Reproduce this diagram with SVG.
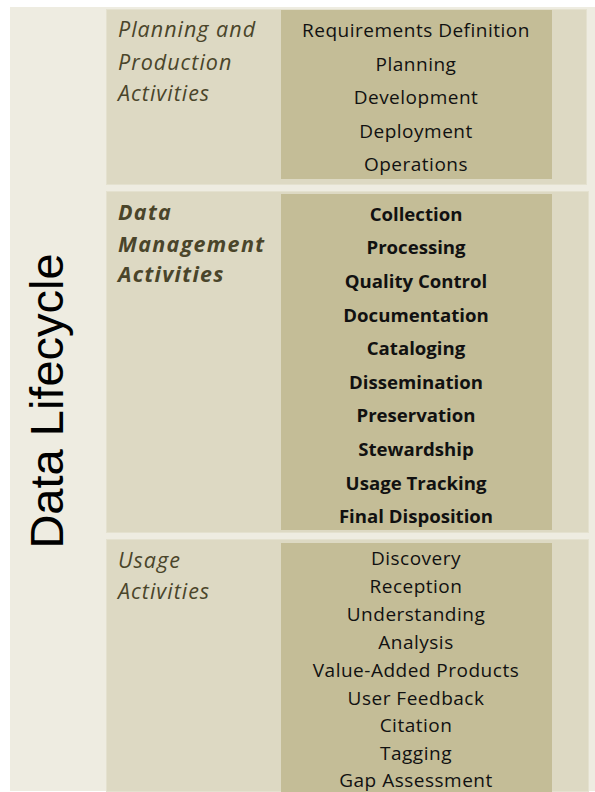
<svg xmlns="http://www.w3.org/2000/svg" width="595" height="792" viewBox="0 0 595 792">
<style>
.bg{fill:#EEECE1}
.panel{fill:#DDD9C3;stroke:#E4E1CF;stroke-width:1}
.box{fill:#C4BD97}
.lbl{font-family:"Open Sans","Noto Sans",sans-serif;font-size:21.5px;letter-spacing:1px;font-style:italic;fill:#4A452A}
.lblb{font-weight:bold;letter-spacing:1.3px}
.item{font-family:"Open Sans","Noto Sans",sans-serif;font-size:19px;letter-spacing:0.5px;fill:#111;text-anchor:middle}
.itemb{font-weight:bold;font-size:18.6px;letter-spacing:0}
.title{font-family:"Liberation Sans",Arial,sans-serif;font-size:47px;fill:#000;text-anchor:middle}
</style>
<rect x="0" y="0" width="595" height="792" fill="#FFFFFF"/>
<rect class="bg" x="10" y="7" width="585" height="784"/>
<g id="title">
<text class="title" transform="translate(63,401) rotate(-90)">Data Lifecycle</text>
</g>
<g id="planning">
<rect class="panel" x="106.5" y="9.5" width="480" height="175"/>
<rect class="box" x="281" y="10" width="271" height="169"/>
<text class="lbl" x="118" y="37">Planning and</text>
<text class="lbl" x="118" y="70">Production</text>
<text class="lbl" x="118" y="101">Activities</text>
<text class="item" x="416" y="37">Requirements Definition</text>
<text class="item" x="416" y="70.5">Planning</text>
<text class="item" x="416" y="104">Development</text>
<text class="item" x="416" y="137.5">Deployment</text>
<text class="item" x="416" y="171">Operations</text>
</g>
<g id="management">
<rect class="panel" x="106.5" y="191.5" width="482" height="341"/>
<rect class="box" x="281" y="194" width="271" height="336"/>
<text class="lbl lblb" x="118" y="220">Data</text>
<text class="lbl lblb" x="118" y="252">Management</text>
<text class="lbl lblb" x="118" y="282">Activities</text>
<text class="item itemb" x="416" y="220.7">Collection</text>
<text class="item itemb" x="416" y="254.3">Processing</text>
<text class="item itemb" x="416" y="287.9">Quality Control</text>
<text class="item itemb" x="416" y="321.5">Documentation</text>
<text class="item itemb" x="416" y="355.1">Cataloging</text>
<text class="item itemb" x="416" y="388.7">Dissemination</text>
<text class="item itemb" x="416" y="422.3">Preservation</text>
<text class="item itemb" x="416" y="455.9">Stewardship</text>
<text class="item itemb" x="416" y="489.5">Usage Tracking</text>
<text class="item itemb" x="416" y="523.1">Final Disposition</text>
</g>
<g id="usage">
<rect class="panel" x="106.5" y="539.5" width="482" height="252"/>
<rect class="box" x="281" y="543" width="271" height="249"/>
<text class="lbl" x="118" y="568">Usage</text>
<text class="lbl" x="118" y="599">Activities</text>
<text class="item" x="416" y="565">Discovery</text>
<text class="item" x="416" y="592.9">Reception</text>
<text class="item" x="416" y="620.8">Understanding</text>
<text class="item" x="416" y="648.7">Analysis</text>
<text class="item" x="416" y="676.6">Value-Added Products</text>
<text class="item" x="416" y="704.5">User Feedback</text>
<text class="item" x="416" y="732.4">Citation</text>
<text class="item" x="416" y="760.3">Tagging</text>
<text class="item" x="416" y="787">Gap Assessment</text>
</g>
<g id="connectors"></g>
</svg>
